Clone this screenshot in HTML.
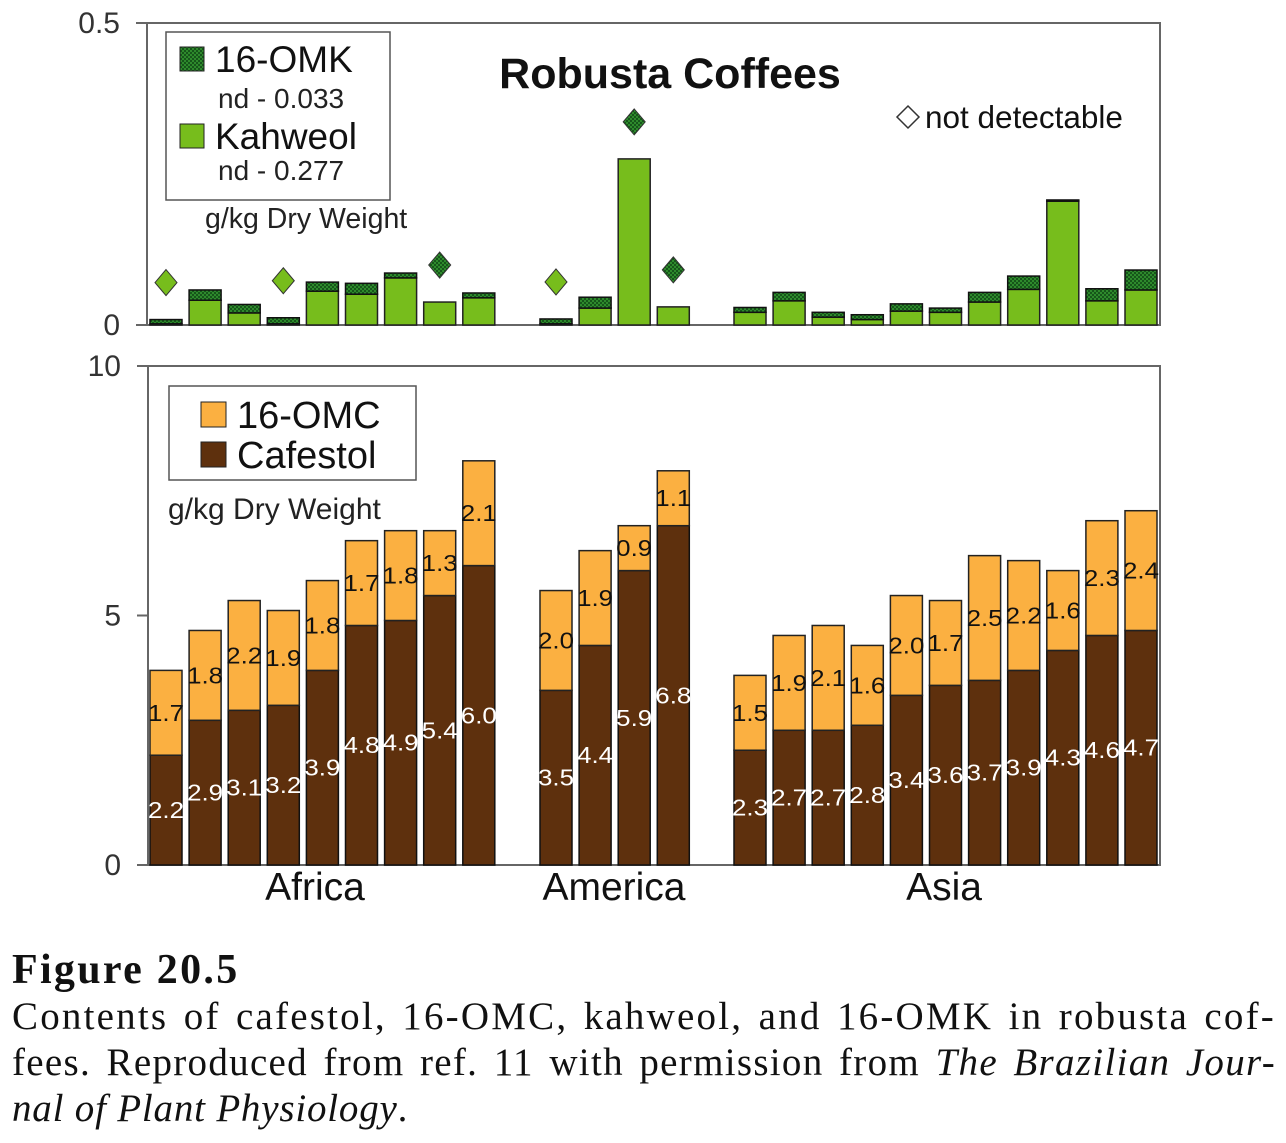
<!DOCTYPE html>
<html><head><meta charset="utf-8"><title>Robusta Coffees</title>
<style>
html,body{margin:0;padding:0;background:#fff;}
body{width:1286px;height:1143px;overflow:hidden;position:relative;font-family:"Liberation Sans",sans-serif;}
#cap{position:absolute;left:12px;top:946px;width:1264px;font-family:"Liberation Serif",serif;color:#111;}
#cap .t{font-weight:bold;font-size:42px;letter-spacing:2.3px;line-height:48px;}
#cap .l{font-size:39px;letter-spacing:2.2px;line-height:46px;white-space:nowrap;}
#cap .l2{letter-spacing:1.3px;}
#cap .l3{letter-spacing:0.8px;}
#cap .j{text-align:justify;text-align-last:justify;}
</style></head><body>
<svg id="chart" width="1286" height="940" viewBox="0 0 1286 940" style="position:absolute;left:0;top:0">
<defs>
<pattern id="chk" width="4" height="4" patternUnits="userSpaceOnUse">
<rect width="4" height="4" fill="#16561a"/><rect width="2" height="2" fill="#2e8a2c"/><rect x="2" y="2" width="2" height="2" fill="#2e8a2c"/>
</pattern>
</defs>
<g id="top"></g>
<g id="bot"></g>
</svg>
<div id="cap">
<div class="t">Figure 20.5</div>
<div>
<div class="l j">Contents of cafestol, 16-OMC, kahweol, and 16-OMK in robusta cof-</div>
<div class="l l2 j">fees. Reproduced from ref. 11 with permission from <i>The Brazilian Jour-</i></div>
<div class="l l3"><i>nal of Plant Physiology</i>.</div>
</div>
</div>
<script>
// ---- data ----
const groups = ["Africa", "America", "Asia"];
const groupSizes = [9, 4, 11];
const kahweol = [0.002,0.041,0.020,0.002,0.056,0.051,0.078,0.038,0.045, 0.002,0.028,0.275,0.030, 0.021,0.040,0.013,0.009,0.023,0.021,0.038,0.059,0.205,0.040,0.058];
const omk = [0.007,0.017,0.014,0.010,0.015,0.018,0.008,0,0.008, 0.008,0.018,0,0, 0.008,0.014,0.008,0.008,0.012,0.007,0.016,0.022,0.002,0.020,0.033];
const kahweolND = [0,3,9];
const omkND = [7,11,12];
const cafestol = [2.2,2.9,3.1,3.2,3.9,4.8,4.9,5.4,6.0, 3.5,4.4,5.9,6.8, 2.3,2.7,2.7,2.8,3.4,3.6,3.7,3.9,4.3,4.6,4.7];
const omc = [1.7,1.8,2.2,1.9,1.8,1.7,1.8,1.3,2.1, 2.0,1.9,0.9,1.1, 1.5,1.9,2.1,1.6,2.0,1.7,2.5,2.2,1.6,2.3,2.4];
const topTicks = ["0","0.5"];
const botTicks = ["0","5","10"];

// ---- layout ----
const NS="http://www.w3.org/2000/svg";
function mk(parent,tag,attrs,text){const e=document.createElementNS(NS,tag);for(const k in attrs)e.setAttribute(k,attrs[k]);if(text!==undefined)e.textContent=text;parent.appendChild(e);return e;}
const topL={x0:147,x1:1160,y0:325,y1:23,max:0.5,starts:[150,540,734],steps:[39.1,39.1,39.1],w:[32,32,32]};
const botL={x0:148,x1:1160,y0:865,y1:366,max:10,starts:[150,540,734],steps:[39.1,39.1,39.1],w:[32,32,32]};
function yS(L,v){return L.y0-(L.y0-L.y1)*v/L.max;}
function barX(L,i){let g=0,j=i;while(j>=groupSizes[g]){j-=groupSizes[g];g++;}return {x:L.starts[g]+j*L.steps[g],w:L.w[g]};}

const T=document.getElementById('top'), B=document.getElementById('bot');
function frame(G,L,ticks){
  const f=mk(G,'rect',{x:L.x0,y:L.y1,width:L.x1-L.x0,height:L.y0-L.y1,fill:'none',stroke:'#666','stroke-width':2});
  
  
  ticks.forEach(t=>{const y=yS(L,parseFloat(t));
    const ln=mk(G,'line',{x1:L.x0-11,x2:L.x0,y1:y,y2:y,stroke:'#666','stroke-width':2});
    
    
    const tx=mk(G,'text',{x:L.x0-27,y:y+10,'text-anchor':'end','font-size':30,fill:'#333'},t);
    
    
  });
}
frame(T,topL,topTicks);frame(B,botL,botTicks);

// top bars
kahweol.forEach((k,i)=>{const p=barX(topL,i);const yk=yS(topL,k),yo=yS(topL,k+omk[i]);
  const r1=mk(T,'rect',{x:p.x,y:yk,width:p.w,height:topL.y0-yk,fill:'#77bd1c',stroke:'#222','stroke-width':1.5});
  
  
  if(omk[i]>0){const r2=mk(T,'rect',{x:p.x,y:yo,width:p.w,height:yk-yo,fill:'url(#chk)',stroke:'#111','stroke-width':1.5});
    
    }
});
function diamond(i,fill,nm){const p=barX(topL,i);const cx=p.x+p.w/2;const top=yS(topL,kahweol[i]+omk[i]);const cy=top-37;
  const d=mk(T,'polygon',{points:`${cx},${cy-13} ${cx+11},${cy} ${cx},${cy+13} ${cx-11},${cy}`,fill:fill,stroke:'#333','stroke-width':1});
  
  }
kahweolND.forEach(i=>diamond(i,'#77bd1c','kahweol-not-detectable-marker'));
omkND.forEach(i=>diamond(i,'url(#chk)','omk-not-detectable-marker'));

// bottom bars
cafestol.forEach((c,i)=>{const p=barX(botL,i);const yc=yS(botL,c),yo=yS(botL,c+omc[i]);const cx=p.x+p.w/2;
  const r1=mk(B,'rect',{x:p.x,y:yc,width:p.w,height:botL.y0-yc,fill:'#5e300d',stroke:'#111','stroke-width':1.5});
  
  
  const r2=mk(B,'rect',{x:p.x,y:yo,width:p.w,height:yc-yo,fill:'#fbb041',stroke:'#222','stroke-width':1.5});
  
  
  const t1=mk(B,'text',{x:cx,y:(yc+botL.y0)/2+8,'text-anchor':'middle','font-size':23,fill:'#fff',textLength:36,lengthAdjust:'spacingAndGlyphs'},c.toFixed(1));
  
  
  const t2=mk(B,'text',{x:cx,y:(yc+yo)/2+8,'text-anchor':'middle','font-size':23,fill:'#111',textLength:36,lengthAdjust:'spacingAndGlyphs'},omc[i].toFixed(1));
  
  
});
// group labels
const gcx=[315,614,944];
groups.forEach((g,k)=>{const t=mk(B,'text',{x:gcx[k],y:900,'text-anchor':'middle','font-size':39,fill:'#111'},g);
  
  });

// titles and legends
let e;
e=mk(T,'text',{x:670,y:88,'text-anchor':'middle','font-size':43,'font-weight':'bold',fill:'#111'},'Robusta Coffees');


e=mk(T,'polygon',{points:'908,106 919,117 908,128 897,117',fill:'#fff',stroke:'#333','stroke-width':1.5});


e=mk(T,'text',{x:925,y:128,'font-size':31.5,fill:'#111'},'not detectable');


e=mk(T,'rect',{x:166,y:32,width:224,height:168,fill:'#fff',stroke:'#555','stroke-width':1.5});


e=mk(T,'rect',{x:180,y:47,width:24,height:24,fill:'url(#chk)',stroke:'#222','stroke-width':1});


e=mk(T,'text',{x:215,y:72,'font-size':37,fill:'#111'},'16-OMK');


e=mk(T,'text',{x:218,y:108,'font-size':28,fill:'#222'},'nd - 0.033');


e=mk(T,'rect',{x:180,y:124,width:24,height:24,fill:'#77bd1c',stroke:'#222','stroke-width':1});


e=mk(T,'text',{x:215,y:149,'font-size':37,fill:'#111'},'Kahweol');


e=mk(T,'text',{x:218,y:180,'font-size':28,fill:'#222'},'nd - 0.277');


e=mk(T,'text',{x:205,y:228,'font-size':28.5,fill:'#222'},'g/kg Dry Weight');



e=mk(B,'rect',{x:169,y:386,width:247,height:94,fill:'#fff',stroke:'#555','stroke-width':1.5});


e=mk(B,'rect',{x:201,y:402,width:25,height:25,fill:'#fbb041',stroke:'#222','stroke-width':1});


e=mk(B,'text',{x:237,y:428,'font-size':38,fill:'#111'},'16-OMC');


e=mk(B,'rect',{x:201,y:442,width:25,height:25,fill:'#5e300d',stroke:'#222','stroke-width':1});


e=mk(B,'text',{x:237,y:468,'font-size':38,fill:'#111'},'Cafestol');


e=mk(B,'text',{x:168,y:519,'font-size':30,fill:'#222'},'g/kg Dry Weight');


</script>
</body></html>
